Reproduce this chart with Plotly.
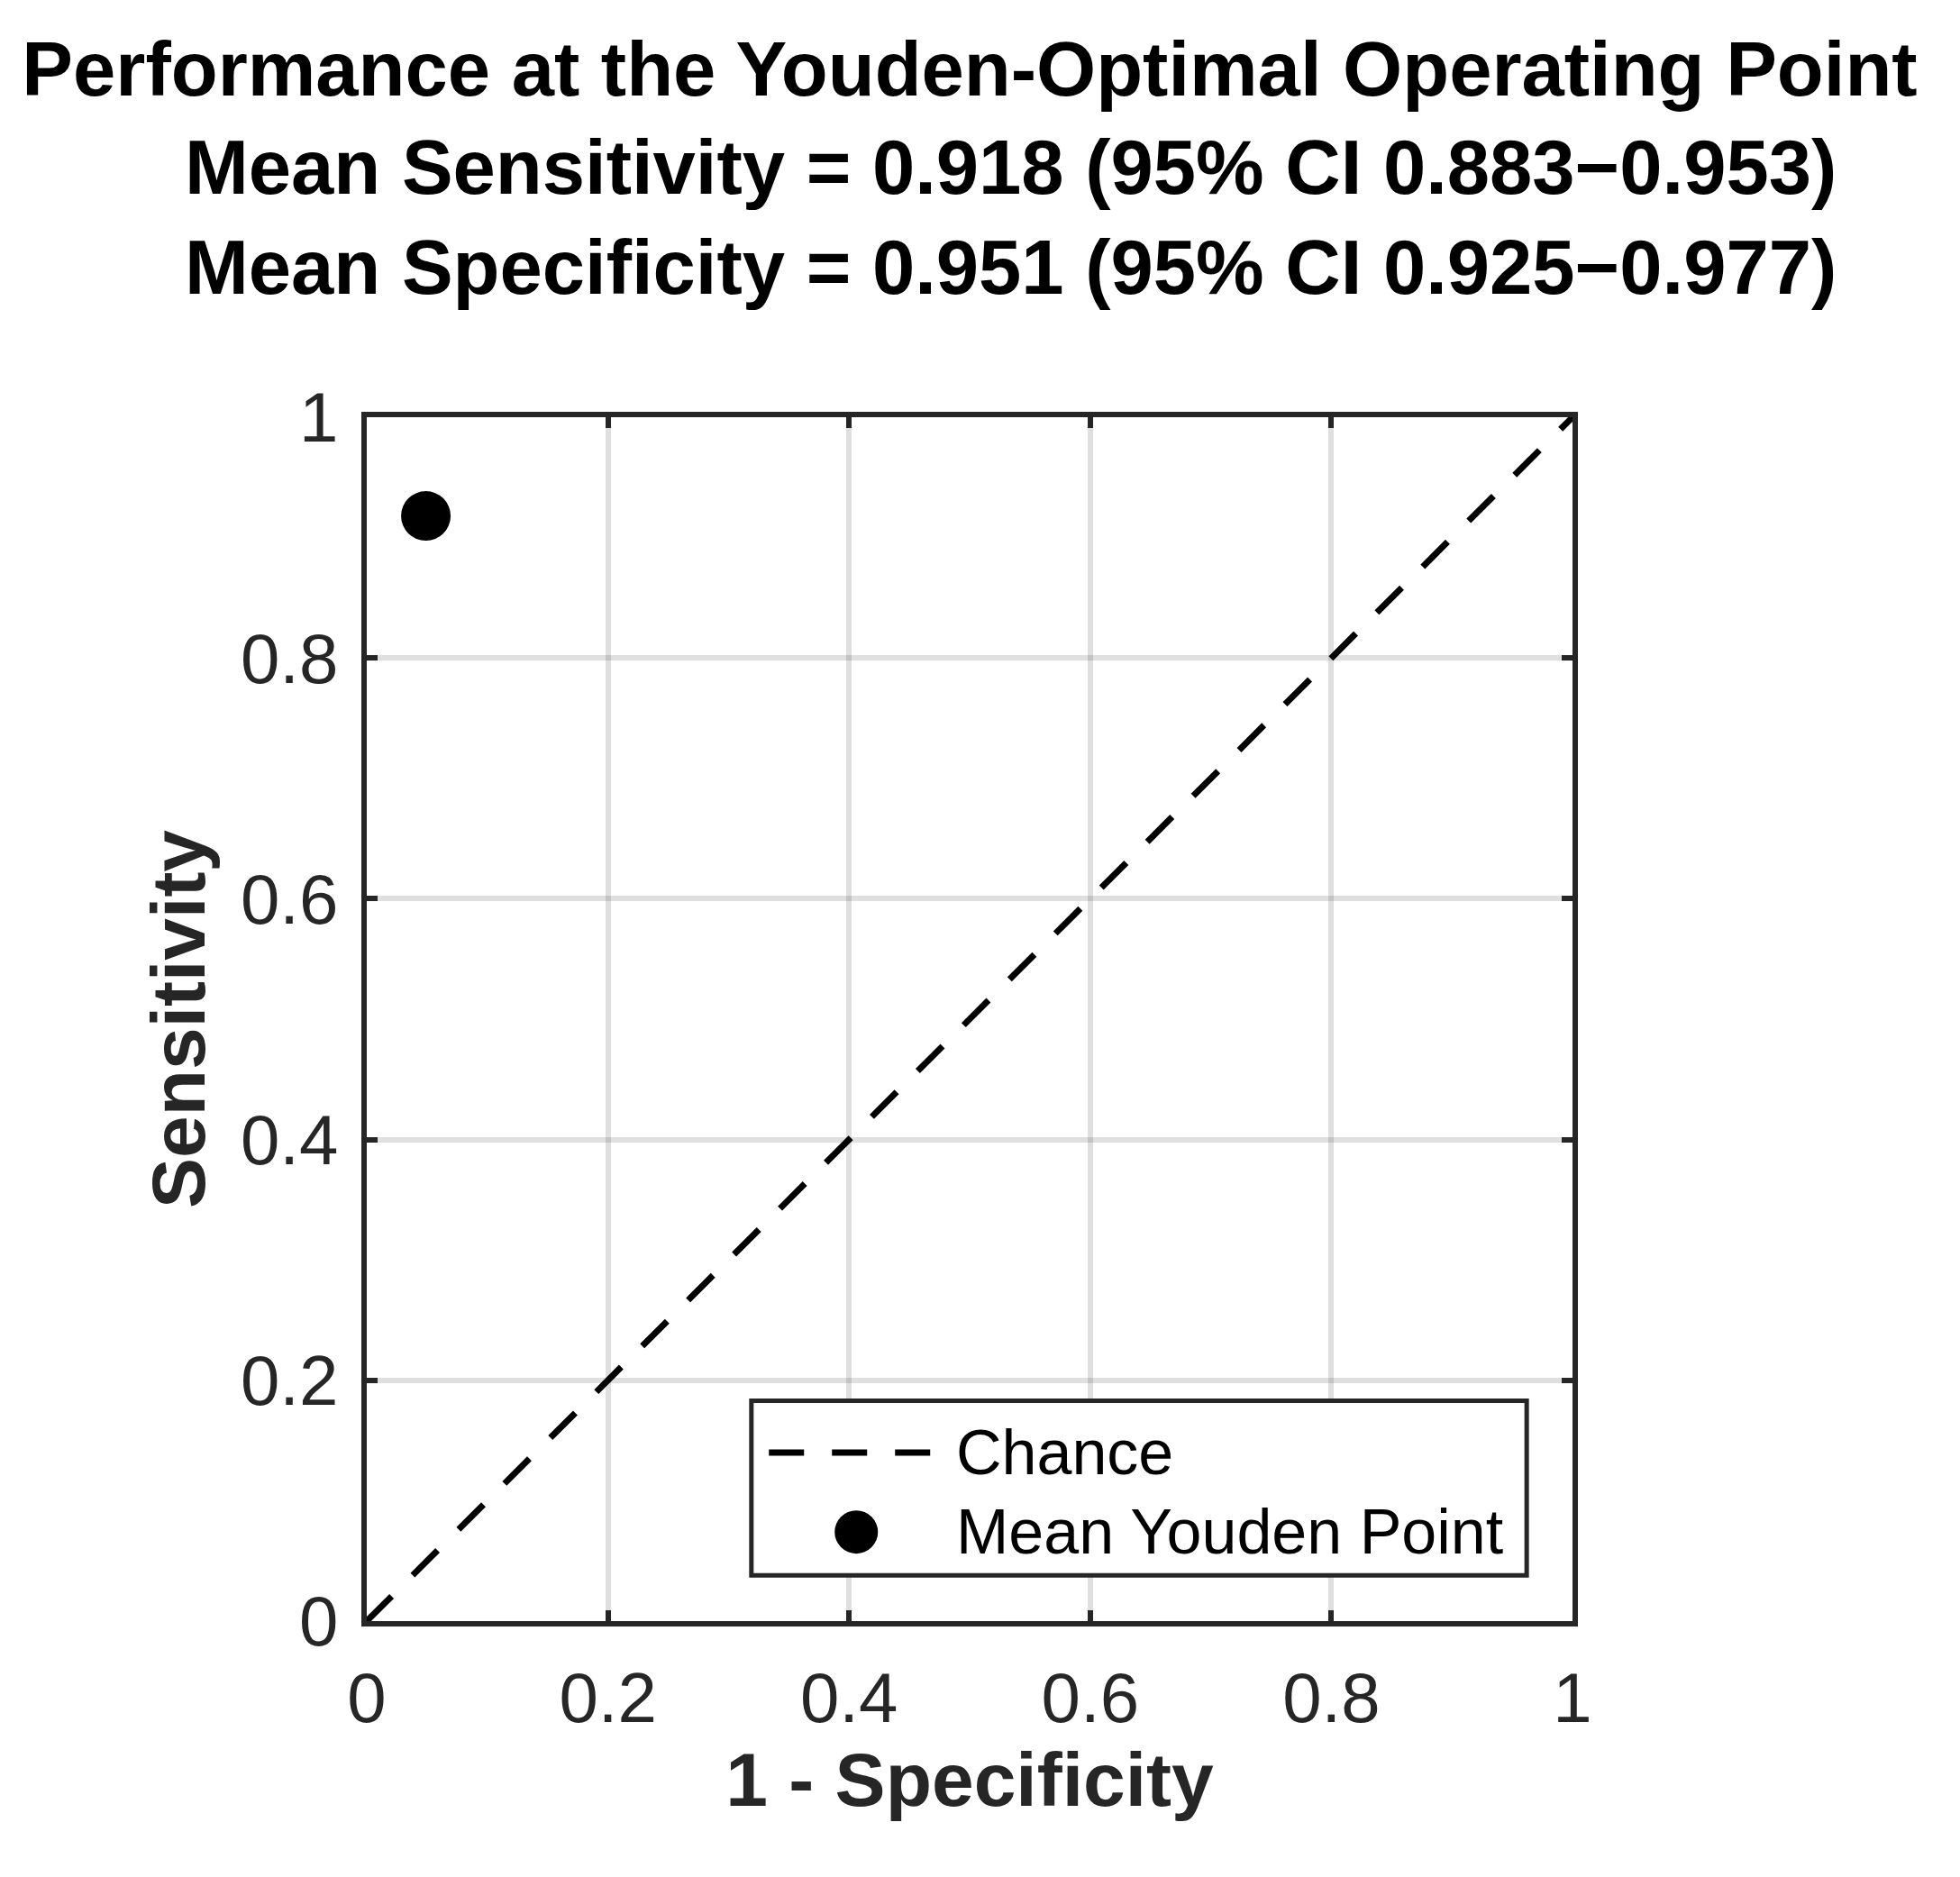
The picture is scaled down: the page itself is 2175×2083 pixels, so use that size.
import plotly.graph_objects as go

# Data
chance_x = [0, 1]
chance_y = [0, 1]
mean_sensitivity = 0.918
sens_ci = [0.883, 0.953]
mean_specificity = 0.951
spec_ci = [0.925, 0.977]
point_x = [1 - mean_specificity]
point_y = [mean_sensitivity]
tick_vals = [0, 0.2, 0.4, 0.6, 0.8, 1]
tick_text = ["0", "0.2", "0.4", "0.6", "0.8", "1"]
legend_names = ["Chance", "Mean Youden Point"]

FONT = "Liberation Sans, Arial, Helvetica, sans-serif"
AXC = "#262626"

title_main = "Performance at the Youden-Optimal Operating Point"
title_sub = (
    f"Mean Sensitivity = {mean_sensitivity:.3f} (95% CI {sens_ci[0]:.3f}\u2212{sens_ci[1]:.3f})<br>"
    f"Mean Specificity = {mean_specificity:.3f} (95% CI {spec_ci[0]:.3f}\u2212{spec_ci[1]:.3f})"
)

fig = go.Figure()
fig.add_trace(go.Scatter(
    x=chance_x, y=chance_y, mode="lines", name=legend_names[0],
    line=dict(color="black", width=7, dash="39px,33px"), showlegend=False,
))
fig.add_trace(go.Scatter(
    x=point_x, y=point_y, mode="markers", name=legend_names[1],
    marker=dict(color="black", size=55, line=dict(width=0)), showlegend=False,
))

axis_common = dict(
    range=[0, 1], tickvals=tick_vals, ticktext=tick_text,
    showgrid=True, gridcolor="rgba(38,38,38,0.15)", gridwidth=6,
    showline=True, linecolor=AXC, linewidth=6, mirror="ticks",
    ticks="inside", ticklen=12, tickwidth=6, tickcolor=AXC,
    zeroline=False,
    tickfont=dict(family=FONT, size=78, color=AXC),
)

# Legend box (paper coordinates of the plot area)
lg_x0, lg_x1, lg_y0, lg_y1 = 0.319, 0.962, 0.038, 0.183
row_y = [0.140, 0.074]
key_x0, key_x1 = 0.3335, 0.4735
key_mid = 0.406
text_x = 0.487

shapes = [
    dict(type="rect", xref="paper", yref="paper", x0=lg_x0, x1=lg_x1, y0=lg_y0, y1=lg_y1,
         line=dict(color=AXC, width=5), fillcolor="white", layer="above"),
    dict(type="line", xref="paper", yref="paper", x0=key_x0, x1=key_x1, y0=row_y[0], y1=row_y[0],
         line=dict(color="black", width=7, dash="39px,31px"), layer="above"),
    dict(type="circle", xref="paper", yref="paper", xsizemode="pixel", ysizemode="pixel",
         xanchor=key_mid, yanchor=row_y[1], x0=-24, x1=24, y0=-24, y1=24,
         line=dict(width=0), fillcolor="black", layer="above"),
]

annotations = [
    dict(text=title_sub, xref="paper", yref="paper", x=0.534, y=1.166,
         xanchor="center", yanchor="middle", showarrow=False, align="center",
         font=dict(family=FONT, size=85, color="black", weight="bold")),
]
for name, yy in zip(legend_names, row_y):
    annotations.append(dict(text=name, xref="paper", yref="paper", x=text_x, y=yy,
                            xanchor="left", yanchor="middle", showarrow=False,
                            font=dict(family=FONT, size=70, color="black")))

fig.update_layout(
    width=2175, height=2083,
    margin=dict(l=407, r=430, t=463, b=284),
    paper_bgcolor="white", plot_bgcolor="white",
    title=dict(
        text=title_main, x=0.5, xref="paper", xanchor="center",
        y=0.9635, yref="container", yanchor="middle",
        font=dict(family=FONT, size=85, color="black", weight="bold"),
    ),
    xaxis=dict(axis_common, title=dict(text="<b>1 - Specificity</b>",
               font=dict(family=FONT, size=84, color=AXC), standoff=15),
               ticklabelstandoff=12),
    yaxis=dict(axis_common, title=dict(text="<b>Sensitivity</b>",
               font=dict(family=FONT, size=84, color=AXC), standoff=14),
               ticklabelstandoff=10),
    showlegend=False,
    shapes=shapes,
    annotations=annotations,
)

fig.write_html("out.html")
